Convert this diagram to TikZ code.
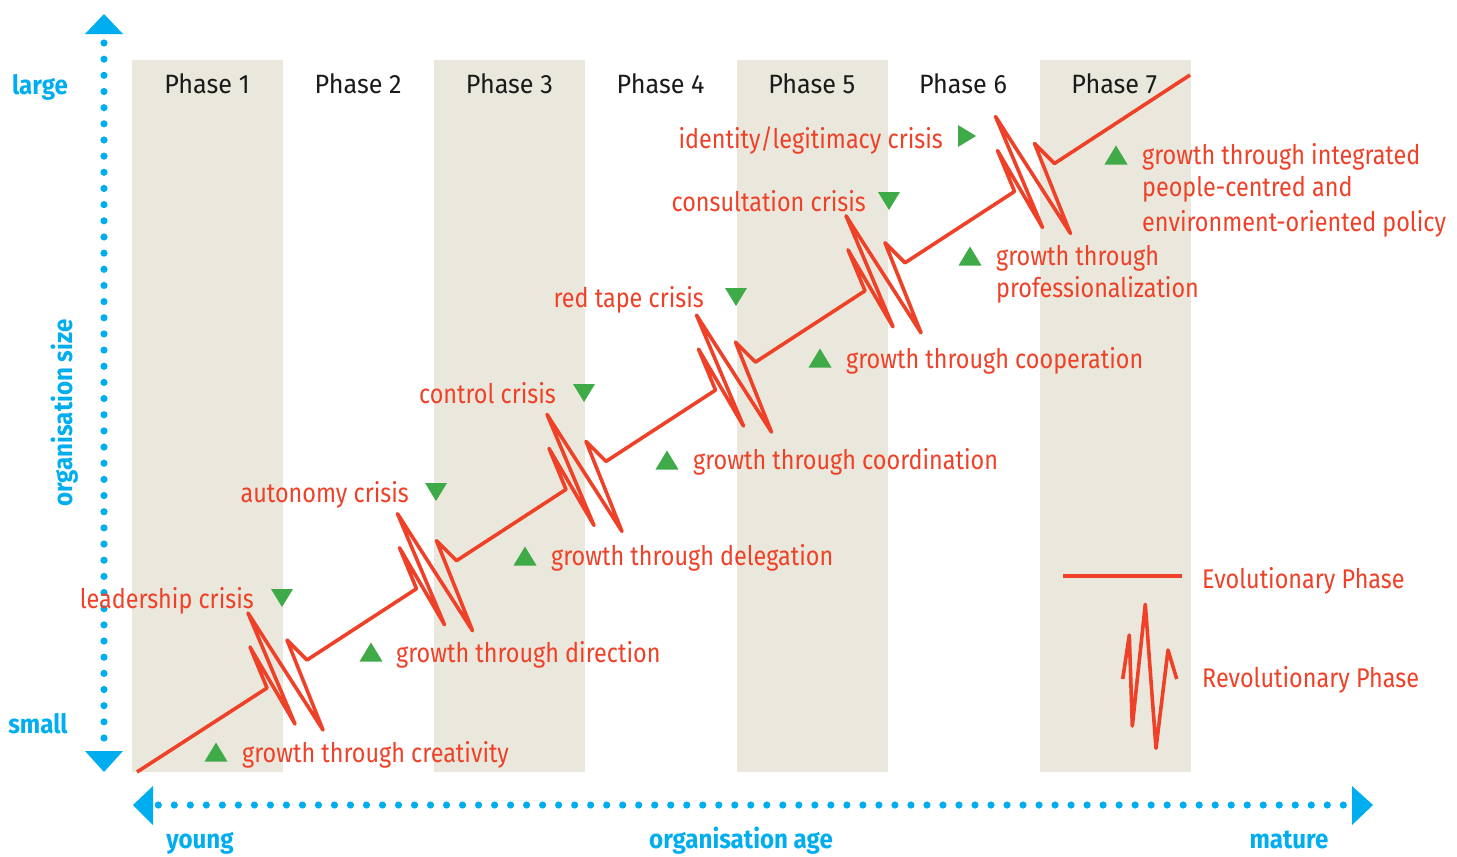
\documentclass[tikz,border=0pt]{standalone}
\usepackage{fontspec}
\setmainfont{Fira Sans}
\newfontfamily\redfont[FakeStretch=0.866]{Fira Sans}
\newfontfamily\phfont[FakeStretch=0.95]{Fira Sans}
\newfontfamily\blfont[FakeStretch=0.91]{Fira Sans}
\begin{document}
\begin{tikzpicture}[x=1pt,y=-1pt]
\definecolor{band}{HTML}{EAE8DC}
\definecolor{evored}{HTML}{EE4128}
\definecolor{grn}{HTML}{3FAA48}
\definecolor{axisblue}{HTML}{00AEEF}
\definecolor{ink}{HTML}{1A1A1A}
\tikzset{
  evo/.style={draw=evored, line width=3.6pt, line join=round},
  lbl/.style={text=evored, font=\redfont\fontsize{27}{32}\selectfont, inner sep=0pt},
  phase/.style={text=ink, font=\phfont\fontsize{26.5}{31}\selectfont, inner sep=0pt},
  axlbl/.style={text=axisblue, font=\blfont\bfseries\fontsize{26.5}{31}\selectfont, inner sep=0pt},
  triup/.pic={\fill[grn] (-11.5,9.5) -- (11.5,9.5) -- (0,-9.5) -- cycle;},
  tridown/.pic={\fill[grn] (-11,-9) -- (11,-9) -- (0,9) -- cycle;},
  triright/.pic={\fill[grn] (-9,-11) -- (-9,11) -- (9,0) -- cycle;},
}
\useasboundingbox (0,0) rectangle (1457,857);

% phase bands
\foreach \x in {132,434,737,1040}
  \fill[band] (\x,60) rectangle +(151,712);

% phase headings
\foreach \n [evaluate=\n as \cx using 207+151.2*(\n-1)] in {1,...,7}
  \node[phase, anchor=base] (ph\n) at (\cx,93) {Phase \n};

% vertical axis: organisation size
\foreach \k in {0,...,43}
  \fill[axisblue] (104,{43+\k*16.163}) circle (3.6pt);
\coordinate (vtop) at (104,14);
\coordinate (vbot) at (104,772);
\fill[axisblue] (vtop) -- (123,34) -- (85,34) -- cycle;
\fill[axisblue] (vbot) -- (85,751) -- (123,751) -- cycle;
\node[axlbl, anchor=base] (large) at (40,94) {large};
\node[axlbl, anchor=base] (small) at (38,733) {small};
\node[axlbl, anchor=base, rotate=90] (size) at (72,413) {organisation size};

% horizontal axis: organisation age
\foreach \k in {0,...,74}
  \fill[axisblue] ({158.3+\k*16.0135},805) circle (3.6pt);
\coordinate (hleft) at (133,805);
\coordinate (hright) at (1373,805);
\fill[axisblue] (hleft) -- (153,786) -- (153,825) -- cycle;
\fill[axisblue] (hright) -- (1352,786) -- (1352,825) -- cycle;
\node[axlbl, anchor=base] (young) at (200,848) {young};
\node[axlbl, anchor=base] (age) at (741,848) {organisation age};
\node[axlbl, anchor=base] (mature) at (1289,848) {mature};

% growth curve: evolutionary lines broken by revolutionary zigzags
\coordinate (O) at (137,772);
\coordinate (E) at (1190,75);
\foreach \i in {1,...,6}
  \coordinate (P\i) at ({267+149.5*(\i-1)},{688-99.3*(\i-1)});
\draw[evo] (O)
  \foreach \i in {1,...,6} {
    -- (P\i) -- +(-17,-41) -- +(28,36) -- +(-19,-75) -- +(56,42) -- +(20,-48) -- +(40,-28)
  } -- (E);

% growth labels
\pic at (216,752) {triup};
\node[lbl, anchor=base west] (g1) at (242,762) {growth through creativity};
\pic at (371,652) {triup};
\node[lbl, anchor=base west] (g2) at (396,662) {growth through direction};
\pic at (525,556) {triup};
\node[lbl, anchor=base west] (g3) at (551,565) {growth through delegation};
\pic at (667,460) {triup};
\node[lbl, anchor=base west] (g4) at (693,469) {growth through coordination};
\pic at (820,358) {triup};
\node[lbl, anchor=base west] (g5) at (846,368) {growth through cooperation};
\pic at (970,256) {triup};
\node[lbl, anchor=base west] (g6a) at (996,265) {growth through};
\node[lbl, anchor=base west] (g6b) at (996,297) {professionalization};
\pic at (1116,155) {triup};
\node[lbl, anchor=base west] (g7a) at (1142,164) {growth through integrated};
\node[lbl, anchor=base west] (g7b) at (1142,196) {people-centred and};
\node[lbl, anchor=base west] (g7c) at (1142,231) {environment-oriented policy};

% crisis labels
\node[lbl, anchor=base east] (c1) at (254,608) {leadership crisis};
\pic at (282,598) {tridown};
\node[lbl, anchor=base east] (c2) at (409,502) {autonomy crisis};
\pic at (436,492) {tridown};
\node[lbl, anchor=base east] (c3) at (556,403) {control crisis};
\pic at (584,393) {tridown};
\node[lbl, anchor=base east] (c4) at (704,307) {red tape crisis};
\pic at (736,297) {tridown};
\node[lbl, anchor=base east] (c5) at (866,211) {consultation crisis};
\pic at (889,201) {tridown};
\node[lbl, anchor=base east] (c6) at (943,148) {identity/legitimacy crisis};
\pic at (967,136) {triright};

% legend
\coordinate (la) at (1063,576);
\coordinate (lb) at (1182,576);
\draw[evo, line width=4.5pt] (la) -- (lb);
\node[lbl, anchor=base west] (levo) at (1202,588) {Evolutionary Phase};
\draw[evo] (1122.7,679) -- (1129.3,635) -- (1132.3,726) -- (1145.3,604.3)
  -- (1156,748.3) -- (1168,650) -- (1176.7,679);
\node[lbl, anchor=base west] (lrev) at (1202,687) {Revolutionary Phase};
\end{tikzpicture}
\end{document}
